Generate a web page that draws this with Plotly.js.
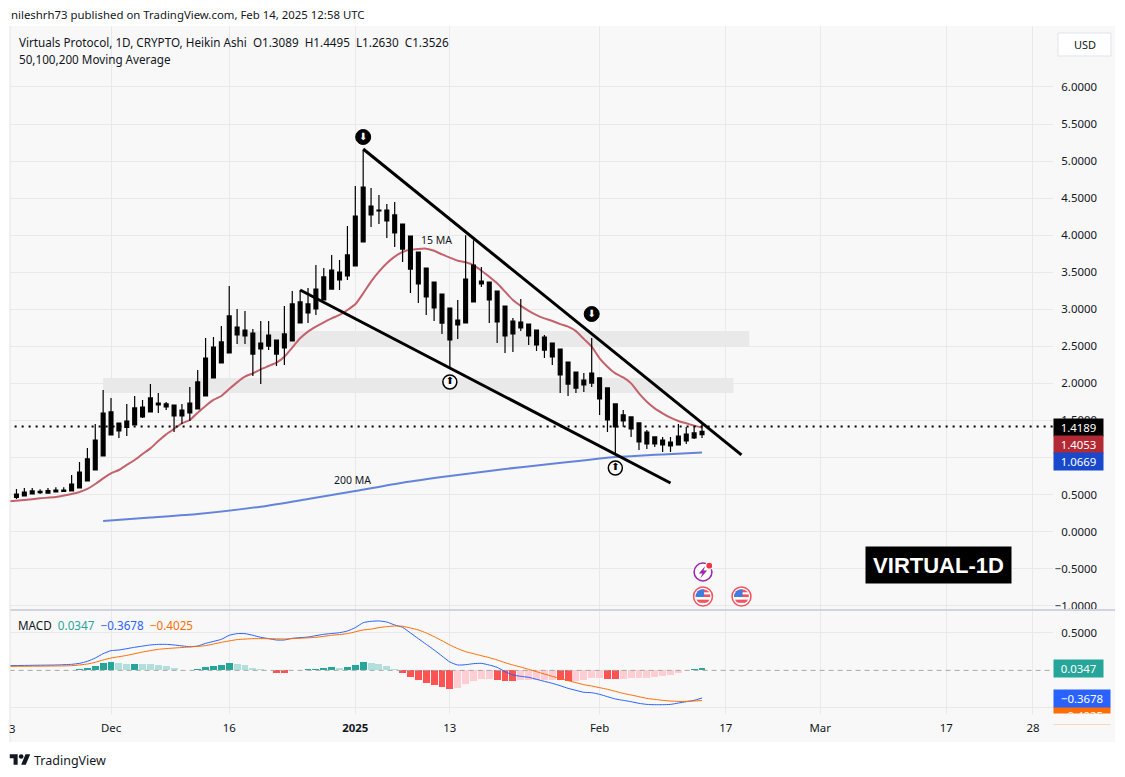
<!DOCTYPE html>
<html><head><meta charset="utf-8">
<script src="https://cdn.plot.ly/plotly-3.0.1.min.js"></script>
<style>html,body{margin:0;padding:0;background:#fff}#c{width:1125px;height:777px}</style>
</head><body><div id="c"></div>
<script>
// ---------- data ----------
const firstCandleDay = -12; // offset in days from 2024-12-01
const candleHigh = [.575,.588,.588,.57,.588,.597,.597,.764,.939,1.128,1.452,1.91,1.803,1.465,1.72,1.83,1.776,1.991,1.87,1.749,1.708,1.722,1.951,2.18,2.612,2.626,2.774,3.314,3.004,2.977,2.734,2.842,2.842,2.584,3.044,3.247,3.26,3.287,3.597,3.557,3.733,3.665,4.124,4.664,5.15,4.637,4.542,4.421,4.448,4.15,3.989,3.773,3.557,3.368,3.206,3.017,3.125,4.0,3.933,3.57,3.368,3.246,3.044,2.882,3.138,2.801,2.72,2.652,2.545,2.464,2.288,2.153,2.139,2.612,2.076,1.938,1.722,1.641,1.547,1.466,1.371,1.277,1.277,1.277,1.452,1.411,1.425,1.4495];
const candleOpen = [.507,.534,.548,.543,.552,.561,.561,.642,.804,.98,1.236,1.6,1.614,1.465,1.492,1.668,1.681,1.803,1.735,1.722,1.708,1.64,1.735,2.019,2.342,2.491,2.559,2.91,2.761,2.72,2.68,2.545,2.653,2.584,2.667,3.072,3.099,3.072,3.273,3.436,3.53,3.503,3.733,4.259,4.65,4.394,4.34,4.34,4.273,4.15,3.989,3.773,3.557,3.368,3.206,3.017,2.855,3.408,3.597,3.381,3.368,3.246,3.044,2.841,2.828,2.801,2.72,2.625,2.545,2.464,2.288,2.153,2.045,2.139,2.076,1.938,1.722,1.574,1.547,1.466,1.344,1.277,1.236,1.209,1.29,1.317,1.331,1.3526];
const candleClose = [.462,.48,.507,.525,.52,.534,.543,.548,.588,.683,.831,1.02,1.303,1.357,1.407,1.438,1.546,1.614,1.708,1.681,1.56,1.56,1.6,1.654,1.83,2.073,2.275,2.41,2.653,2.639,2.396,2.464,2.504,2.396,2.478,2.572,2.815,2.95,3.004,3.125,3.273,3.395,3.449,3.584,3.908,4.273,4.326,4.191,4.03,3.813,3.543,3.341,3.166,3.017,2.814,2.586,2.788,2.815,3.098,3.341,3.125,2.828,2.639,2.666,2.747,2.639,2.518,2.45,2.356,2.113,1.991,1.937,1.978,2.004,1.789,1.506,1.411,1.493,1.385,1.209,1.182,1.182,1.169,1.155,1.169,1.223,1.263,1.3089];
const candleLow = [.44,.48,.507,.507,.52,.534,.543,.548,.588,.683,.831,1.02,1.303,1.263,1.29,1.438,1.533,1.614,1.6,1.64,1.344,1.452,1.492,1.654,1.83,2.073,2.275,2.41,2.532,2.532,2.1,1.99,2.45,2.234,2.247,2.572,2.815,2.815,2.923,3.125,3.273,3.26,3.395,3.584,3.908,4.11,4.15,3.962,3.84,3.638,3.219,3.084,2.923,2.841,2.666,2.208,2.598,2.815,3.098,3.3,2.815,2.545,2.41,2.423,2.707,2.518,2.437,2.342,2.248,1.87,1.83,1.87,1.883,1.95,1.573,1.344,1.047,1.411,1.277,1.101,1.114,1.142,1.074,1.074,1.169,1.182,1.25,1.263];

const ma15Days = [-13,-11,-9,-7,-5,-4,-3,-2,-1,0,1,2,3,4,5,6,7,8,9,10,11,12,13,14,15,16,17,18,19,20,21,22,23,24,25,26,27,28,29,30,31,32,33,34,35,36,37,38,39,40,41,42,43,44,45,46,47,48,49,50,51,52,53,54,55,56,57,58,59,60,61,62,63,64,65,66,67,68,69,70,71,72,73,74,75];
const ma15Vals = [.407,.426,.449,.467,.507,.534,.575,.642,.718,.786,.831,.899,.966,1.047,1.123,1.222,1.312,1.385,1.461,1.506,1.605,1.695,1.776,1.83,1.924,2.014,2.091,2.136,2.19,2.235,2.28,2.36,2.482,2.608,2.698,2.765,2.824,2.878,2.923,2.99,3.067,3.215,3.373,3.507,3.62,3.71,3.773,3.805,3.815,3.818,3.79,3.74,3.697,3.656,3.634,3.597,3.52,3.44,3.35,3.238,3.125,3.045,2.98,2.922,2.877,2.842,2.80,2.765,2.705,2.6,2.495,2.338,2.225,2.135,2.08,2.0,1.866,1.753,1.663,1.596,1.537,1.492,1.461,1.43,1.4053];
const ma200Days = [-1,5,11,19,25,31,37,43,50,56,59,62,64,68,70,75];
const ma200Vals = [.143,.19,.237,.336,.44,.548,.66,.75,.845,.915,.95,.985,1.005,1.03,1.04,1.0669];

const upperTrendDays = [32,80]; const upperTrendVals = [5.163,1.034];
const lowerTrendDays = [24,71]; const lowerTrendVals = [3.26,.656];
const zoneUpperDays = [16,81]; const zoneUpperVals = [2.505,2.707];
const zoneLowerDays = [-1,79]; const zoneLowerVals = [1.87,2.073];
const lastPrice = 1.4189;
const downMarkDays = [32,61]; const downMarkVals = [5.325,2.936];
const upMarkDays = [43,64]; const upMarkVals = [2.019,.858];

const histVals = [.004,.004,.004,.002,.002,.002,.004,.004,.018,.031,.058,.093,.111,.098,.084,.084,.084,.084,.071,.058,.031,.004,.002,.018,.044,.058,.071,.098,.084,.071,.031,.018,.002,-.036,-.036,.004,.004,.018,.018,.031,.044,.031,.044,.071,.111,.098,.084,.058,.018,-.036,-.089,-.129,-.169,-.196,-.222,-.249,-.236,-.182,-.142,-.116,-.116,-.129,-.142,-.142,-.129,-.129,-.129,-.129,-.129,-.129,-.142,-.142,-.129,-.102,-.102,-.116,-.116,-.116,-.102,-.102,-.102,-.089,-.076,-.062,-.036,.004,.018,.0347];
const histTone = "TTTTtttTTTTTTttTtttttttTTTTTtttttRRTTTTTTtTTTttttRRRRRRRrrrrrRRRrrrrrRRrrrrRRrrrrrrrrTTT";
const blueDays = [-13,-10,-7,-5,-4,-3,-2,-1,0,1,3,5,6,7,8,10,11,12,14,15,16,17,18,19,20,21,22,23,25,27,29,30,31,32,33,34,35,36,37,38,39,40,41,42,43,44,45,46,47,48,49,50,51,52,53,54,55,56,57,58,59,60,61,62,63,64,65,66,67,68,69,70,71,72,73,74,75];
const blueVals = [.063,.068,.072,.081,.094,.121,.165,.223,.263,.272,.308,.339,.347,.347,.339,.316,.325,.36,.414,.468,.49,.49,.468,.441,.423,.405,.405,.428,.445,.481,.503,.525,.57,.636,.654,.659,.645,.605,.574,.499,.423,.348,.272,.192,.112,.072,.076,.09,.094,.072,.041,-.017,-.061,-.079,-.092,-.119,-.146,-.172,-.204,-.239,-.266,-.292,-.297,-.319,-.35,-.381,-.399,-.417,-.439,-.453,-.457,-.457,-.453,-.435,-.417,-.399,-.3678];
const orangeDays = [-13,-7,-5,-3,-2,-1,0,2,4,6,8,10,12,14,16,18,20,22,24,26,28,30,32,33,34,35,36,37,38,39,40,41,42,43,44,45,46,47,48,49,50,51,52,53,54,55,56,57,58,59,60,61,62,63,64,65,66,67,68,69,70,71,72,73,74,75];
const orangeVals = [.054,.059,.063,.085,.108,.139,.165,.2,.245,.281,.298,.312,.33,.374,.41,.423,.423,.419,.428,.441,.468,.49,.539,.55,.57,.583,.592,.588,.565,.539,.499,.45,.396,.339,.29,.25,.223,.196,.17,.139,.103,.072,.045,.014,-.017,-.048,-.079,-.106,-.137,-.163,-.19,-.208,-.23,-.252,-.279,-.306,-.328,-.35,-.373,-.386,-.399,-.408,-.413,-.413,-.408,-.4025];

const priceTicks = [-1,-.5,0,.5,1,1.5,2,2.5,3,3.5,4,4.5,5,5.5,6];
const dateTickDays = [0,15,31,43,62,78,90,106,117];
const dateTickText = ["Dec","16","<b>2025</b>","13","Feb","17","Mar","17","28"];

// ---------- helpers ----------
const W = 1125, H = 777;
const FONT = '"Noto Sans", sans-serif';
const FS = 11.4;
const INK = '#131722';
const px = v => v / W, py = v => 1 - v / H;
const iso = d => new Date(Date.UTC(2024, 11, 1) + d * 86400000).toISOString().slice(0, 10);
const dates = a => a.map(iso);
const candleDates = candleHigh.map((_, i) => iso(firstCandleDay + i));
const fmt = v => (v < 0 ? '\u2212' : '') + Math.abs(v).toFixed(4);
const toneColor = {T:'#26a69a', t:'#b2dfdb', R:'#ff5252', r:'#ffcdd2'};
const DAY = 86400000;

const traces = [
  {type:'scatter', mode:'lines', x:dates(ma15Days), y:ma15Vals, line:{color:'#c4616b', width:2, shape:'spline', smoothing:.6}, xaxis:'x', yaxis:'y', hoverinfo:'skip'},
  {type:'scatter', mode:'lines', x:dates(ma200Days), y:ma200Vals, line:{color:'#6484dc', width:2, shape:'spline', smoothing:.6}, xaxis:'x', yaxis:'y', hoverinfo:'skip'},
  {type:'scatter', mode:'lines', x:['2024-11-01','2025-04-30'], y:[lastPrice,lastPrice], line:{color:'#000', width:2, dash:'2px,5px'}, xaxis:'x', yaxis:'y', hoverinfo:'skip'},
  {type:'candlestick', x:candleDates, open:candleOpen, high:candleHigh, low:candleLow, close:candleClose,
   width:.56*DAY, whiskerwidth:0,
   increasing:{line:{color:'#000', width:1.2}, fillcolor:'#000'},
   decreasing:{line:{color:'#000', width:1.2}, fillcolor:'#000'},
   xaxis:'x', yaxis:'y3', hoverinfo:'skip'},
  {type:'scatter', mode:'lines', x:dates(upperTrendDays), y:upperTrendVals, line:{color:'#000', width:3}, xaxis:'x', yaxis:'y3', hoverinfo:'skip'},
  {type:'scatter', mode:'lines', x:dates(lowerTrendDays), y:lowerTrendVals, line:{color:'#000', width:3}, xaxis:'x', yaxis:'y3', hoverinfo:'skip'},
  {type:'scatter', mode:'markers+text', x:dates(downMarkDays), y:downMarkVals, text:downMarkDays.map(()=>'\u2b07'), textposition:'middle center',
   textfont:{color:'#fff', size:10, family:'"DejaVu Sans"'}, marker:{size:15, color:'#000', line:{color:'#000', width:1}}, xaxis:'x', yaxis:'y3', hoverinfo:'skip'},
  {type:'scatter', mode:'markers+text', x:dates(upMarkDays), y:upMarkVals, text:upMarkDays.map(()=>'\u2b06'), textposition:'middle center',
   textfont:{color:'#000', size:10, family:'"DejaVu Sans"'}, marker:{size:14, color:'#f8f8f8', line:{color:'#000', width:1.5}}, xaxis:'x', yaxis:'y3', hoverinfo:'skip'},
  {type:'scatter', mode:'lines', x:['2024-11-01','2025-04-30'], y:[0,0], line:{color:'#a8a8a8', width:1, dash:'5px,4px'}, xaxis:'x2', yaxis:'y2', hoverinfo:'skip'},
  {type:'bar', x:candleDates, y:histVals, width:.88*DAY, marker:{color:histVals.map((_,i)=>toneColor[histTone[i]]), line:{width:0}}, xaxis:'x2', yaxis:'y2', hoverinfo:'skip'},
  {type:'scatter', mode:'lines', x:dates(blueDays), y:blueVals, line:{color:'#2962ff', width:1, shape:'spline', smoothing:.5}, xaxis:'x2', yaxis:'y2', hoverinfo:'skip'},
  {type:'scatter', mode:'lines', x:dates(orangeDays), y:orangeVals, line:{color:'#ff6d00', width:1, shape:'spline', smoothing:.5}, xaxis:'x2', yaxis:'y2', hoverinfo:'skip'}
];

const X0 = 10, X1 = 1053;
const xr = ['2024-11-18 04:19','2025-03-30 12:58'];
const GRID = '#e9e9eb';
const yRange = [-1.045, 6.823];
const note = (x, y, text, o={}) => Object.assign({xref:'paper', yref:'paper', x:px(x), y:py(y), text, showarrow:false, xanchor:'left', yanchor:'middle',
  font:{family:FONT, size:FS, color:INK}}, o);
const tag = (x0, x1, yc, h, text, bg) => note((x0+x1)/2, yc, text, {xanchor:'center', width:x1-x0, height:h, bgcolor:bg, borderpad:0, font:{family:FONT, size:FS, color:'#fff'}});

const flag = encodeURIComponent(`<svg xmlns="http://www.w3.org/2000/svg" viewBox="0 0 40 40"><circle cx="20" cy="20" r="18" fill="#fff" stroke="#f0555f" stroke-width="3"/><clipPath id="c"><circle cx="20" cy="20" r="14"/></clipPath><g clip-path="url(#c)"><rect x="4" y="6" width="32" height="6" fill="#f0555f"/><rect x="4" y="16" width="32" height="5" fill="#f0555f"/><rect x="4" y="26" width="32" height="6" fill="#f0555f"/><rect x="4" y="6" width="18" height="15" fill="#3d7fe0"/></g></svg>`);
const bolt = encodeURIComponent(`<svg xmlns="http://www.w3.org/2000/svg" viewBox="0 0 40 40"><circle cx="20" cy="20" r="17" fill="#fff" stroke="#9c27b0" stroke-width="3"/><path d="M24 9 L12 23 H19 L15 32 L28 17 H21 Z" fill="#9c27b0"/><circle cx="32" cy="8" r="6.5" fill="#f23645" stroke="#fff" stroke-width="2"/></svg>`);
const logo = encodeURIComponent(`<svg xmlns="http://www.w3.org/2000/svg" viewBox="0 0 36 28"><path fill="#131722" d="M14 22H7V11H0V4h14v18zM28 22h-8l7.5-18h8L28 22z"/><circle fill="#131722" cx="20" cy="8" r="4"/></svg>`);
const img = (svg, x, y, s) => ({source:'data:image/svg+xml,'+svg, xref:'paper', yref:'paper', x:px(x), y:py(y), sizex:s/W, sizey:s/H, xanchor:'center', yanchor:'middle', sizing:'contain', layer:'above'});

const layout = {
  width:W, height:H, margin:{l:0,r:0,t:0,b:0,pad:0}, showlegend:false, paper_bgcolor:'#fff', plot_bgcolor:'rgba(0,0,0,0)', bargap:0,
  font:{family:FONT, size:FS, color:INK},
  xaxis:{type:'date', domain:[px(X0),px(X1)], range:xr, anchor:'y', showticklabels:false, tickvals:dates(dateTickDays), ticktext:dateTickText, showgrid:true, gridcolor:GRID, gridwidth:1, zeroline:false, showline:false, ticks:'', rangeslider:{visible:false}},
  xaxis2:{type:'date', domain:[px(X0),px(X1)], range:xr, anchor:'y2', tickmode:'array', tickvals:dates(dateTickDays), ticktext:dateTickText, showgrid:true, gridcolor:GRID, gridwidth:1, zeroline:false, showline:false, ticks:'', tickangle:0, tickfont:{family:FONT, size:FS, color:INK}, ticklabelstandoff:6, rangeslider:{visible:false}},
  yaxis:{domain:[py(609),py(26)], range:yRange, anchor:'free', position:px(1097), side:'left', tickmode:'array', tickvals:priceTicks, ticktext:priceTicks.map(fmt), showgrid:true, gridcolor:GRID, gridwidth:1, zeroline:false, showline:false, ticks:'', tickfont:{family:FONT, size:FS, color:INK}},
  yaxis3:{domain:[py(609),py(26)], range:yRange, overlaying:'y', anchor:'x', side:'right', showgrid:false, showticklabels:false, zeroline:false, showline:false, ticks:''},
  yaxis2:{domain:[py(714),py(610)], range:[-.581,.805], anchor:'free', position:px(1097), side:'left', tickmode:'array', tickvals:[.5,-.5], ticktext:['0.5000',''], showgrid:true, gridcolor:GRID, gridwidth:1, zeroline:false, showline:false, ticks:'', tickfont:{family:FONT, size:FS, color:INK}},
  shapes:[
    {type:'rect', xref:'paper', yref:'paper', x0:px(10), x1:px(1115), y0:py(742), y1:py(26), fillcolor:'#f8f8f8', line:{width:0}, layer:'below'},
    {type:'rect', xref:'x', yref:'y', x0:iso(zoneUpperDays[0]), x1:iso(zoneUpperDays[1]), y0:zoneUpperVals[0], y1:zoneUpperVals[1], fillcolor:'#e9e9e9', line:{width:0}, layer:'below'},
    {type:'rect', xref:'x', yref:'y', x0:iso(zoneLowerDays[0]), x1:iso(zoneLowerDays[1]), y0:zoneLowerVals[0], y1:zoneLowerVals[1], fillcolor:'#e9e9e9', line:{width:0}, layer:'below'},
    {type:'rect', xref:'paper', yref:'paper', x0:px(1053), x1:px(1115), y0:py(616), y1:py(609), fillcolor:'#f8f8f8', line:{width:0}, layer:'above'},
    {type:'line', xref:'paper', yref:'paper', x0:px(10), x1:px(1115), y0:py(610), y1:py(610), line:{color:'#d1d4dc', width:2}, layer:'above'},
    {type:'line', xref:'paper', yref:'paper', x0:px(10), x1:px(10), y0:py(742), y1:py(26), line:{color:'#e4e4e6', width:1}, layer:'above'},
    {type:'rect', xref:'paper', yref:'paper', x0:px(1058), x1:px(1111), y0:py(56), y1:py(33), fillcolor:'#fff', line:{color:'#e0e3eb', width:1}, layer:'above'}
  ],
  images:[img(bolt,703,572,21), img(flag,703,596.5,21), img(flag,741.5,596.5,21), img(logo,20,760,21)],
  annotations:[
    note(9,14,'nileshrh73 published on TradingView.com, Feb 14, 2025 12:58 UTC'),
    note(16.5,42,'Virtuals Protocol, 1D, CRYPTO, Heikin Ashi\u00a0\u00a0O1.3089\u00a0\u00a0H1.4495\u00a0\u00a0L1.2630\u00a0\u00a0C1.3526',{font:{family:FONT,size:11.7,color:INK}}),
    note(16.5,59,'50,100,200 Moving Average',{font:{family:FONT,size:11.7,color:INK}}),
    note(15.5,625,'MACD\u00a0\u00a0<span style="color:#26a69a">0.0347</span>\u00a0\u00a0<span style="color:#2962ff">\u22120.3678</span>\u00a0\u00a0<span style="color:#ff6d00">\u22120.4025</span>',{font:{family:FONT,size:11.7,color:INK}}),
    note(419,240,'15 MA',{font:{family:FONT,size:10.5,color:INK}}),
    note(332,480,'200 MA',{font:{family:FONT,size:10.5,color:INK}}),
    note(1084.5,45,'USD',{xanchor:'center',font:{family:FONT,size:11,color:INK}}),
    note(938.5,564.5,'<b>VIRTUAL-1D</b>',{xanchor:'center',width:143,height:34,bgcolor:'#000',font:{family:'"Liberation Sans"',size:22,color:'#fff'}}),
    note(7,728,'3'),
    note(32,760,'TradingView',{font:{family:FONT,size:12.5,color:INK}}),
    tag(1054,1103,427.5,17,fmt(1.4189),'#000'),
    tag(1054,1103,444.5,17,fmt(1.4053),'#b22833'),
    tag(1054,1103,461.5,17,fmt(1.0669),'#1848cc'),
    tag(1054,1103,668.5,17,fmt(.0347),'#26a69a'),
    tag(1054,1110,715.5,17,fmt(-.4025),'#ff6d00'),
    tag(1054,1110,698.5,17,fmt(-.3678),'#2962ff'),
    tag(1050,1114,719,10,' ','#f8f8f8')
  ]
};
Plotly.newPlot('c', traces, layout, {staticPlot:true, displayModeBar:false});
</script></body></html>
